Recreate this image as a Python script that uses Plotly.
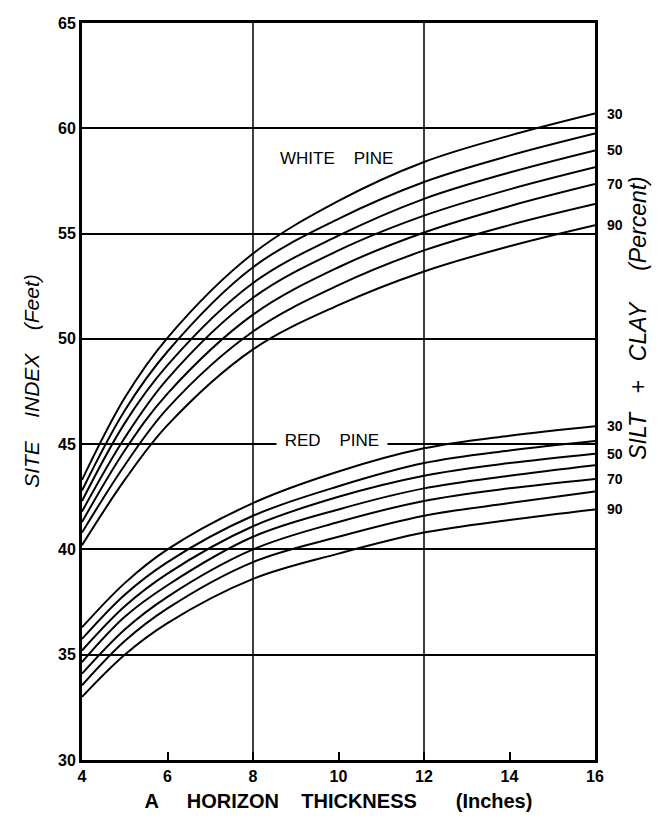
import plotly.graph_objects as go

# A horizon thickness (inches) at which curves were read
thickness = [4, 5, 6, 8, 10, 12, 14, 16]

# White pine site index (feet) by silt + clay percent
wp_30 = [43.3, 47.2, 50.05, 54.05, 56.55, 58.4, 59.65, 60.7]
wp_40 = [42.8, 46.6, 49.4, 53.4, 55.7, 57.45, 58.7, 59.75]
wp_50 = [42.3, 46.0, 48.75, 52.65, 54.9, 56.65, 57.9, 58.95]
wp_60 = [41.8, 45.3, 48.1, 51.95, 54.2, 55.85, 57.1, 58.15]
wp_70 = [41.3, 44.7, 47.4, 51.15, 53.4, 55.05, 56.3, 57.35]
wp_80 = [40.8, 44.0, 46.7, 50.35, 52.55, 54.2, 55.4, 56.4]
wp_90 = [40.2, 43.3, 45.9, 49.5, 51.6, 53.2, 54.4, 55.4]

# Red pine site index (feet) by silt + clay percent
rp_30 = [36.3, 38.4, 40.0, 42.2, 43.7, 44.8, 45.4, 45.85]
rp_40 = [35.75, 37.85, 39.4, 41.6, 43.0, 44.1, 44.7, 45.15]
rp_50 = [35.2, 37.3, 38.85, 41.1, 42.5, 43.5, 44.1, 44.55]
rp_60 = [34.65, 36.8, 38.3, 40.6, 41.9, 42.9, 43.5, 44.0]
rp_70 = [34.1, 36.2, 37.75, 40.0, 41.3, 42.3, 42.9, 43.35]
rp_80 = [33.55, 35.65, 37.2, 39.4, 40.6, 41.6, 42.2, 42.75]
rp_90 = [33.0, 35.0, 36.5, 38.6, 39.8, 40.8, 41.4, 41.9]

white_series = [("30", wp_30), ("40", wp_40), ("50", wp_50), ("60", wp_60),
                ("70", wp_70), ("80", wp_80), ("90", wp_90)]
red_series = [("30", rp_30), ("40", rp_40), ("50", rp_50), ("60", rp_60),
              ("70", rp_70), ("80", rp_80), ("90", rp_90)]
labelled = ["30", "50", "70", "90"]

x_ticks = [4, 6, 8, 10, 12, 14, 16]
y_ticks = [30, 35, 40, 45, 50, 55, 60, 65]
x_grid = [8, 12]

FONT = "Liberation Sans"
SP = "\u00a0"

fig = go.Figure()
annotations = []
for species, series in (("White pine", white_series), ("Red pine", red_series)):
    for pct, vals in series:
        fig.add_trace(go.Scatter(
            x=thickness, y=vals, mode="lines",
            line=dict(color="black", width=2, shape="spline", smoothing=1.0),
            name=f"{species} {pct}%", showlegend=False,
            hoverinfo="x+y+name"))
        if pct in labelled:
            annotations.append(dict(
                x=thickness[-1], y=vals[-1], xref="x", yref="y",
                text=pct, showarrow=False, xanchor="left", yanchor="middle",
                xshift=10, font=dict(family=FONT, size=14, color="black",
                                     weight="bold")))

shapes = []
for gx in x_grid:
    shapes.append(dict(type="line", xref="x", yref="paper", x0=gx, x1=gx,
                       y0=0, y1=1, line=dict(color="black", width=1.5),
                       layer="below"))

annotations += [
    dict(x=9.95, y=58.55, xref="x", yref="y", text=f"WHITE{SP*4}PINE",
         showarrow=False, font=dict(family=FONT, size=17, color="black")),
    dict(x=9.85, y=45.15, xref="x", yref="y", text=f"{SP}RED{SP*4}PINE{SP}",
         showarrow=False, bgcolor="white", borderpad=3,
         font=dict(family=FONT, size=17, color="black")),
    dict(x=-0.125, y=0.515, xref="paper", yref="paper",
         text=f"<i>SITE{SP*4}INDEX{SP*4}(Feet)</i>", textangle=-90,
         showarrow=False, font=dict(family=FONT, size=21, color="black")),
    dict(x=1.113, y=0.60, xref="paper", yref="paper",
         text=f"<i>SILT{SP*3}+{SP*3}CLAY{SP*5}(Percent)</i>", textangle=-90,
         showarrow=False, font=dict(family=FONT, size=23, color="black")),
]

fig.update_layout(
    width=664, height=823,
    margin=dict(l=74, r=77, t=7, b=71),
    paper_bgcolor="white", plot_bgcolor="white",
    font=dict(family=FONT, color="black"),
    shapes=shapes, annotations=annotations,
    xaxis=dict(
        range=[4, 16], tickvals=x_ticks, ticktext=[str(v) for v in x_ticks],
        showgrid=False, zeroline=False,
        showline=True, linecolor="black", linewidth=3, mirror=True,
        ticks="inside", ticklen=8, tickwidth=2, tickcolor="black",
        tickfont=dict(family=FONT, size=16, weight="bold"),
        title=dict(text=f"<b>A{SP*5}HORIZON{SP*4}THICKNESS{SP*7}(Inches)</b>",
                   font=dict(family=FONT, size=20), standoff=10),
    ),
    yaxis=dict(
        range=[30, 65], tickvals=y_ticks, ticktext=[str(v) for v in y_ticks],
        showgrid=True, gridcolor="black", gridwidth=1.5, zeroline=False,
        showline=True, linecolor="black", linewidth=3, mirror=True,
        ticks="", tickfont=dict(family=FONT, size=16, weight="bold"),
    ),
)

fig.write_html("out.html")
